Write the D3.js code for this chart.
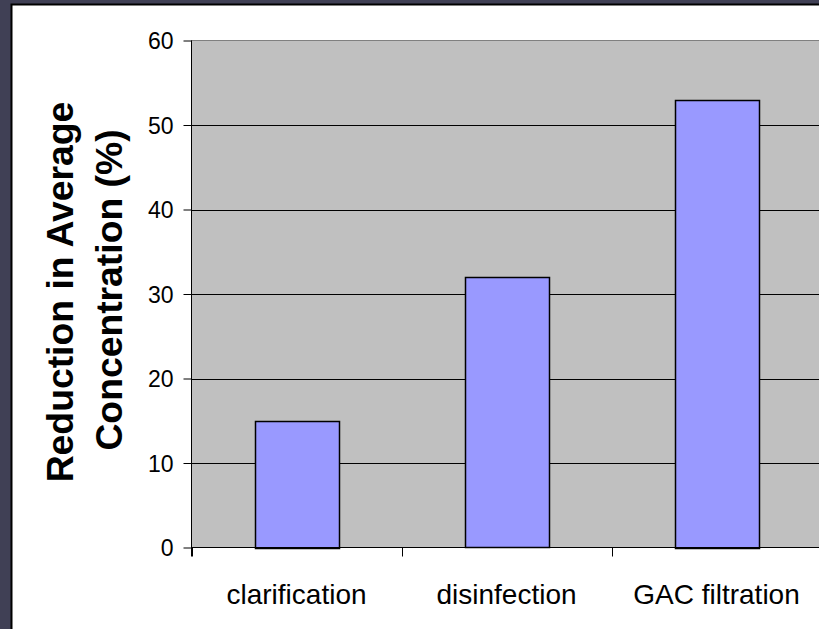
<!DOCTYPE html>
<html><head><meta charset="utf-8">
<script src="https://cdn.jsdelivr.net/npm/d3@7"></script>
<style>html,body{margin:0;padding:0;background:#404055;overflow:hidden}</style>
</head><body>
<script>
const categories = ["clarification", "disinfection", "GAC filtration"];
const values = [15, 32, 53];
const yTicks = [0, 10, 20, 30, 40, 50, 60];
const yTitle = ["Reduction in Average", "Concentration (%)"];

(function () {
const W = 819, H = 629;
const svg = d3.select("body").append("svg").attr("width", W).attr("height", H).style("display", "block");
svg.append("rect").attr("width", W).attr("height", H).attr("fill", "#404055");
svg.append("rect").attr("x", 11.5).attr("y", 4.5).attr("width", W).attr("height", H)
  .attr("fill", "#fff").attr("stroke", "#000").attr("stroke-width", 2);

const pL = 191.5, pT = 40.5, pB = 547.5, pR = 821.5;
const x = d3.scaleBand().domain(categories).range([pL, pR]).paddingInner(0.6).paddingOuter(0.3);
const y = d3.scaleLinear().domain([0, 60]).range([pB, pT]);

svg.append("rect").attr("x", pL).attr("y", pT).attr("width", pR - pL).attr("height", pB - pT)
  .attr("fill", "#c0c0c0").attr("stroke", "#808080");

svg.append("g").selectAll("line").data(yTicks.filter(t => t > 0 && t < 60)).join("line")
  .attr("x1", pL).attr("x2", pR).attr("y1", d => Math.round(y(d)) + 0.5).attr("y2", d => Math.round(y(d)) + 0.5)
  .attr("stroke", "#000");

svg.append("g").selectAll("rect").data(values).join("rect")
  .attr("x", (d, i) => Math.round(x(categories[i])) + 0.5)
  .attr("y", d => Math.round(y(d)) + 0.5)
  .attr("width", Math.round(x.bandwidth()))
  .attr("height", d => Math.round(pB - y(d)))
  .attr("fill", "#9999ff").attr("stroke", "#000").attr("stroke-width", 1.5);

const ya = svg.append("g").attr("transform", `translate(${pL},0)`)
  .call(d3.axisLeft(y).tickValues(yTicks).tickSize(8).tickPadding(10).tickFormat(d3.format("d")));
ya.select(".domain").attr("stroke", "#000").attr("d", `M0,${pT}V${pB + 9}`);
ya.selectAll(".tick line").attr("stroke", "#000");
ya.selectAll(".tick text").attr("font-family", "Liberation Sans, Arial, sans-serif").attr("font-size", 23).attr("fill", "#000").attr("dy", "0.36em");

const step = x.step();
const xa = svg.append("g");
xa.append("line").attr("x1", pL).attr("x2", pR).attr("y1", pB).attr("y2", pB).attr("stroke", "#000");
xa.selectAll("line.t").data(categories).join("line").attr("class", "t")
  .attr("x1", (d, i) => Math.round(pL + i * step) + 0.5).attr("x2", (d, i) => Math.round(pL + i * step) + 0.5)
  .attr("y1", pB).attr("y2", pB + 9).attr("stroke", "#000");
xa.selectAll("text").data(categories).join("text")
  .attr("x", d => x(d) + x.bandwidth() / 2).attr("y", 604)
  .attr("text-anchor", "middle").attr("font-family", "Liberation Sans, Arial, sans-serif")
  .attr("font-size", 28).attr("fill", "#000").text(d => d);

svg.append("g").selectAll("text").data(yTitle).join("text")
  .attr("transform", (d, i) => `translate(${[73, 122][i]},${[292, 290][i]}) rotate(-90)`)
  .attr("text-anchor", "middle").attr("font-family", "Liberation Sans, Arial, sans-serif")
  .attr("font-weight", "bold").attr("font-size", 37.3).attr("fill", "#000").text(d => d);
})();
</script>
</body></html>
